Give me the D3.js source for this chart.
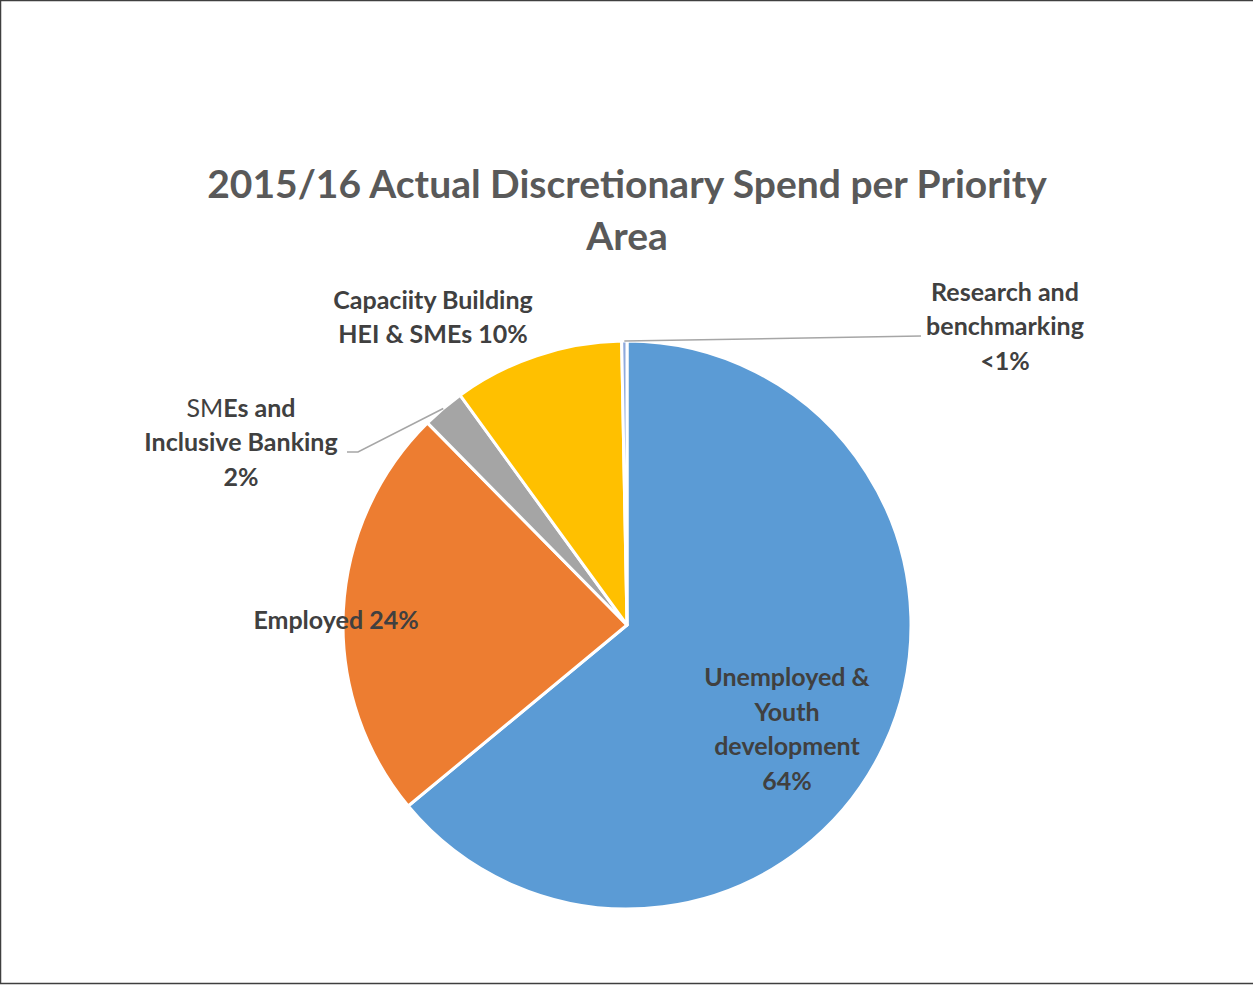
<!DOCTYPE html>
<html lang="en">
<head>
    <meta charset="UTF-8">
    <title>2015/16 Actual Discretionary Spend per Priority Area</title>
    <script src="https://d3js.org/d3.v7.min.js"></script>
    <style>
        body { margin: 0; background: #fff; }
        text { font-family: Lato, "Open Sans", sans-serif; font-weight: bold; }
    </style>
</head>
<body>
<svg id="chart" width="1253" height="985"></svg>
<script>
    // data
    const categories = ["Unemployed & Youth development", "Employed", "SMEs and Inclusive Banking",
        "Capaciity Building HEI & SMEs", "Research and benchmarking"];
    const values = [64.0, 23.6, 2.4, 9.7, 0.3];
    const colors = ["#5b9bd5", "#ed7d31", "#a5a5a5", "#ffc000", "#8faadc"];
    const labelLines = [
        ["Unemployed &", "Youth", "development", "64%"],
        ["Employed 24%"],
        ["SMEs and", "Inclusive Banking", "2%"],
        ["Capaciity Building", "HEI & SMEs 10%"],
        ["Research and", "benchmarking", "<1%"]
    ];

    const svg = d3.select("#chart");
    const width = 1253, height = 985;

    // frame
    svg.append("rect")
        .attr("x", 0.5).attr("y", 0.5)
        .attr("width", width + 2).attr("height", height - 2)
        .attr("fill", "none").attr("stroke", "#3f3f3f").attr("stroke-width", 1.5);

    // title
    svg.append("text")
        .attr("x", 627).attr("y", 198)
        .attr("text-anchor", "middle")
        .attr("font-size", 39).attr("fill", "#595959")
        .selectAll("tspan")
        .data(["2015/16 Actual Discretionary Spend per Priority", "Area"])
        .join("tspan")
        .attr("x", 627)
        .attr("dy", (d, i) => i ? 52 : 0)
        .text(d => d);

    const cx = 627, cy = 625, r = 284;
    const g = svg.append("g").attr("transform", `translate(${cx},${cy})`);

    const pie = d3.pie().sort(null).value(d => d);
    const arcs = pie(values);
    const arc = d3.arc().innerRadius(0).outerRadius(r);
    const edge = d3.arc().innerRadius(r).outerRadius(r);

    g.selectAll("path.slice")
        .data(arcs)
        .join("path")
        .attr("class", "slice")
        .attr("d", arc)
        .attr("fill", (d, i) => colors[i])
        .attr("stroke", "#fff")
        .attr("stroke-width", 3)
        .attr("stroke-linejoin", "round");

    // label placement (centre of each text block, relative to pie centre)
    const labelPos = [[160, 105], [-291, -4], [-386, -182], [-194, -307], [378, -298]];
    const lineH = 34.5;

    // leader lines for the small slices
    const leaders = [
        {i: 2, from: [-280, -173], knee: [-269, -173]},
        {i: 4, from: [294, -289], knee: [294, -289]}
    ];
    leaders.forEach(l => {
        const p = edge.centroid(arcs[l.i]);
        g.append("polyline")
            .attr("points", [l.from, l.knee, p].map(q => q.join(",")).join(" "))
            .attr("fill", "none")
            .attr("stroke", "#a6a6a6")
            .attr("stroke-width", 1.5);
    });

    labelPos.forEach((pos, i) => {
        const lines = labelLines[i];
        const t = g.append("text")
            .attr("text-anchor", "middle")
            .attr("font-size", 25)
            .attr("fill", "#404040");
        lines.forEach((line, j) => {
            const ts = t.append("tspan")
                .attr("x", pos[0])
                .attr("y", pos[1] + (j - (lines.length - 1) / 2) * lineH + 8);
            if (i === 2 && j === 0) {
                ts.append("tspan").attr("font-weight", "normal").text("SM");
                ts.append("tspan").text("Es and");
            } else {
                ts.text(line);
            }
        });
    });
</script>
</body>
</html>
